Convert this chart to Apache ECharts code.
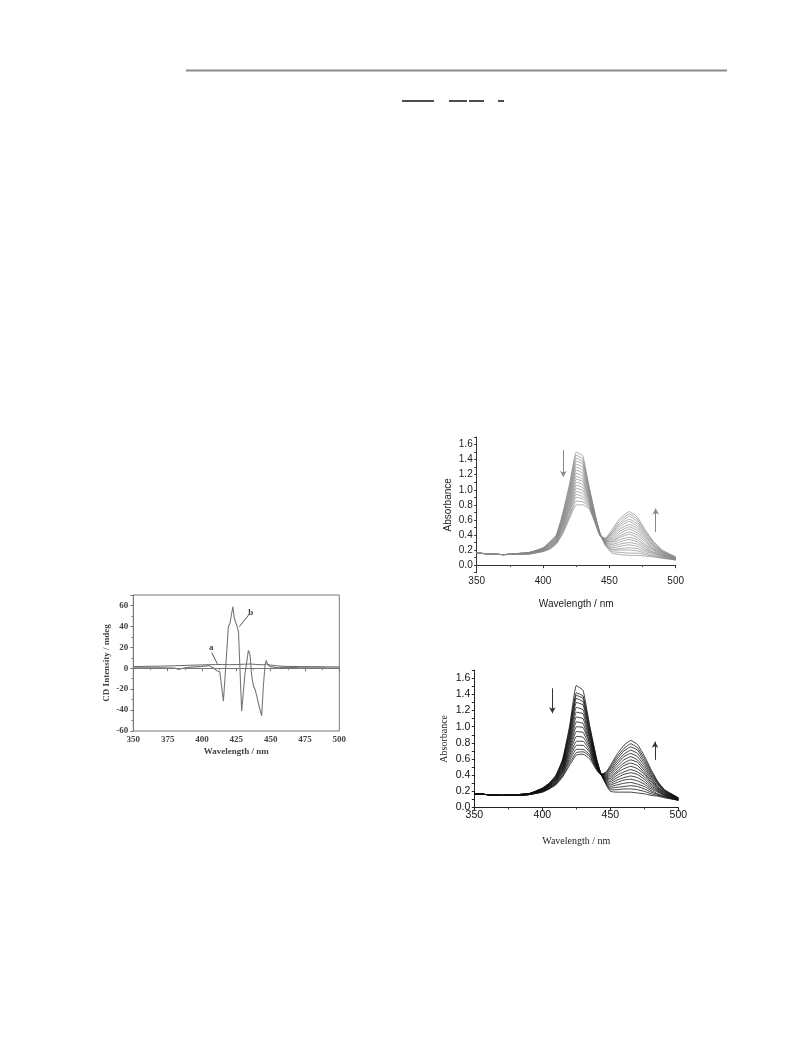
<!DOCTYPE html>
<html><head><meta charset="utf-8">
<script src="https://cdn.jsdelivr.net/npm/echarts@6/dist/echarts.min.js"></script>
<style>html,body{margin:0;padding:0;background:#fff}#c{width:791px;height:1059px}</style>
</head><body><div id="c"></div>
<script>
// ---------- Panel A: CD spectra (curves a and b) ----------
const CD_A_X = [350,360,370,380,390,400,405,410,415,420,425,430,435,440,444,447,450,455,460,470,480,490,500];
const CD_A_Y = [1.5,1.8,2.0,2.3,2.8,3.2,3.4,3.5,3.6,3.4,3.5,3.8,4.0,3.6,3.2,4.0,3.0,2.2,1.8,1.6,1.5,1.4,1.2];
const CD_B_X = [350,360,370,380,383,386,390,400,405,408,411,413,415.6,417.5,419.2,420.4,422.5,423.6,424.6,425.7,426.6,428.9,431.3,432.5,433.8,435,436.2,437.4,438.6,439.9,441,442.8,443.5,444.7,445.9,446.7,448.3,450,455,460,470,480,490,500];
const CD_B_Y = [0.5,0.3,0.5,0.2,-1.2,0.0,0.8,1.8,2.5,0.5,-2.5,-3.5,-31.5,5,39.5,43,59,47.5,49,39.5,34.5,-41,-5.5,-5,17,13,-7,-16.5,-20,-26.5,-33,-42.5,-45.5,-17,2.5,7.5,2.5,1.5,0.5,0.8,0.6,0.5,0.3,0.2];
const CD_LABELS = [["a", 407.1, 14.9, 411.2, 4.2], ["b", 435.0, 52.6, 427.2, 39.7]];

// ---------- Panel B: absorption titration (grey) ----------
// one row per wavelength, one column per spectrum
const WL2 = [350,370,390,400,405,410,415,420,425,430,435,440,443,447,452,458,465,471,477,483,490,500];
const ABS2 = [
 [.16,.16,.16,.16,.16,.16,.16,.16,.16,.16,.16,.16,.16,.16,.16,.16,.16,.16],
 [.14,.14,.14,.14,.14,.14,.14,.14,.14,.14,.14,.14,.14,.14,.14,.14,.14,.14],
 [.17,.17,.17,.17,.17,.16,.16,.16,.16,.16,.16,.16,.16,.15,.15,.15,.15,.15],
 [.23,.23,.22,.22,.22,.22,.21,.21,.21,.20,.20,.20,.19,.19,.19,.19,.18,.18],
 [.31,.30,.30,.29,.29,.28,.27,.27,.26,.26,.25,.25,.24,.23,.23,.22,.22,.21],
 [.40,.39,.39,.38,.37,.36,.36,.35,.34,.34,.33,.32,.32,.31,.30,.29,.29,.28],
 [.70,.68,.67,.65,.63,.62,.60,.58,.57,.55,.54,.52,.50,.49,.47,.45,.44,.42],
 [1.08,1.05,1.03,1.00,.97,.94,.92,.89,.86,.84,.81,.78,.76,.73,.70,.67,.65,.62],
 [1.50,1.46,1.42,1.38,1.34,1.30,1.26,1.22,1.18,1.14,1.10,1.06,1.02,.98,.94,.90,.85,.80],
 [1.45,1.41,1.37,1.34,1.30,1.26,1.22,1.18,1.14,1.11,1.07,1.03,.99,.95,.91,.88,.84,.80],
 [1.02,1.00,.99,.97,.95,.94,.92,.90,.89,.87,.86,.84,.82,.81,.79,.77,.76,.74],
 [.62,.61,.61,.60,.60,.59,.58,.58,.57,.57,.56,.56,.55,.54,.54,.53,.53,.52],
 [.42,.42,.42,.41,.41,.41,.41,.41,.40,.40,.40,.40,.40,.40,.39,.39,.39,.39],
 [.26,.27,.27,.28,.28,.29,.30,.30,.31,.31,.32,.32,.33,.34,.34,.35,.35,.36],
 [.16,.18,.20,.21,.23,.25,.27,.29,.31,.32,.34,.36,.38,.40,.42,.43,.45,.47],
 [.14,.17,.20,.22,.25,.28,.31,.34,.37,.39,.42,.45,.48,.51,.54,.56,.59,.62],
 [.13,.16,.20,.23,.27,.30,.34,.37,.41,.44,.48,.51,.54,.58,.61,.65,.68,.71],
 [.13,.16,.19,.22,.25,.28,.31,.34,.37,.40,.43,.46,.49,.52,.55,.58,.61,.64],
 [.12,.14,.16,.18,.20,.22,.24,.26,.28,.31,.33,.35,.37,.39,.41,.43,.45,.47],
 [.11,.12,.13,.15,.16,.17,.18,.20,.21,.22,.23,.25,.26,.27,.28,.30,.31,.32],
 [.09,.10,.10,.11,.12,.12,.13,.13,.14,.15,.15,.16,.17,.17,.18,.18,.19,.20],
 [.07,.07,.07,.07,.08,.08,.08,.08,.09,.09,.09,.09,.10,.10,.10,.10,.11,.11]
];
const ARROWS2 = [[415.3, 1.525, 1.17], [484.9, 0.44, 0.75]];

// ---------- Panel C: absorption titration (black) ----------
const WL3 = [350,370,390,400,405,410,415,420,425,430,435,440,443,447,450,455,460,465,470,475,480,485,490,500];
const ABS3 = [
 [.17,.17,.17,.17,.17,.17,.17,.17,.17,.17,.17,.17,.17,.17,.17,.17,.17],
 [.15,.15,.15,.15,.15,.15,.15,.15,.15,.15,.15,.15,.15,.15,.15,.15,.15],
 [.17,.17,.17,.17,.17,.17,.17,.17,.16,.16,.16,.16,.16,.16,.16,.16,.16],
 [.24,.24,.23,.23,.23,.22,.22,.22,.22,.21,.21,.21,.20,.20,.20,.19,.19],
 [.30,.30,.29,.29,.28,.28,.27,.27,.27,.26,.26,.25,.25,.24,.24,.23,.23],
 [.40,.39,.39,.38,.37,.36,.36,.35,.34,.33,.33,.32,.31,.30,.30,.29,.28],
 [.60,.59,.57,.56,.55,.53,.52,.50,.49,.48,.46,.45,.44,.42,.41,.39,.38],
 [1.00,.97,.94,.91,.88,.85,.82,.79,.76,.73,.70,.67,.64,.61,.58,.55,.52],
 [1.51,1.42,1.39,1.35,1.30,1.24,1.18,1.12,1.06,1.00,.94,.88,.82,.77,.72,.68,.65],
 [1.45,1.38,1.35,1.31,1.27,1.21,1.16,1.10,1.04,.99,.93,.87,.82,.77,.72,.69,.66],
 [1.00,.98,.95,.93,.90,.88,.85,.83,.80,.78,.75,.73,.70,.68,.65,.63,.60],
 [.60,.59,.58,.57,.57,.56,.55,.54,.53,.52,.51,.50,.50,.49,.48,.47,.46],
 [.42,.42,.42,.42,.42,.42,.42,.42,.41,.41,.41,.41,.41,.41,.41,.41,.41],
 [.28,.29,.30,.31,.32,.33,.34,.35,.36,.37,.38,.39,.40,.41,.42,.43,.44],
 [.20,.22,.24,.26,.28,.30,.32,.34,.36,.38,.40,.42,.44,.46,.48,.50,.52],
 [.19,.22,.25,.28,.31,.34,.37,.40,.43,.45,.48,.51,.54,.57,.60,.63,.66],
 [.19,.23,.26,.30,.34,.37,.41,.44,.48,.52,.55,.59,.63,.66,.70,.73,.77],
 [.19,.23,.27,.31,.35,.39,.43,.47,.51,.55,.59,.63,.67,.71,.75,.79,.83],
 [.18,.22,.26,.29,.33,.37,.41,.44,.48,.52,.56,.59,.63,.67,.71,.74,.78],
 [.17,.20,.23,.26,.29,.32,.35,.38,.41,.43,.46,.49,.52,.55,.58,.61,.64],
 [.15,.17,.19,.21,.23,.25,.27,.29,.31,.33,.35,.37,.39,.41,.43,.45,.47],
 [.14,.15,.16,.17,.19,.20,.21,.22,.23,.24,.25,.26,.28,.29,.30,.31,.32],
 [.12,.13,.13,.14,.15,.15,.16,.16,.17,.18,.18,.19,.20,.20,.21,.21,.22],
 [.09,.09,.09,.09,.10,.10,.10,.10,.10,.11,.11,.11,.11,.11,.12,.12,.12]
];
const ARROWS3 = [[407.4, 1.476, 1.167], [482.9, 0.59, 0.815]];

// ---------- build ----------
const SERIF = "'Liberation Serif','DejaVu Serif',serif";
const SANS = "'Liberation Sans','DejaVu Sans',sans-serif";
function evenFmt(v){ const r = Math.round(v*10); if (r < 0 || r % 2) return ''; return (r/10).toFixed(1); }

function spectra(wl, rows, gi, style, arrows, arrowColor){
  const n = rows[0].length, out = [];
  for (let k = 0; k < n; k++){
    const s = {
      type:'line', xAxisIndex:gi, yAxisIndex:gi, symbol:'none', smooth:0.12,
      lineStyle:style, silent:true,
      data: wl.map((w,i)=>[w, rows[i][k]])
    };
    if (k === 0){
      s.markLine = {
        silent:true, symbol:['none','arrow'], symbolSize:[5,6],
        lineStyle:{color:arrowColor, width:1, type:'solid'}, label:{show:false},
        data: arrows.map(a=>[{coord:[a[0],a[1]]},{coord:[a[0],a[2]]}])
      };
    }
    out.push(s);
  }
  return out;
}

const chart = echarts.init(document.getElementById('c'), null, {width:791, height:1059});

const cdLabelFont = {fontFamily:SERIF, fontSize:9, fontWeight:'bold', color:'#444'};
const series = [
  { type:'line', xAxisIndex:0, yAxisIndex:0, symbol:'none', silent:true,
    lineStyle:{color:'#666', width:1},
    data: CD_A_X.map((x,i)=>[x, CD_A_Y[i]]),
    markLine:{ silent:true, symbol:'none', lineStyle:{color:'#555', width:1, type:'solid'},
      label:{show:true, position:'start', distance:1, formatter:p=>p.name, ...cdLabelFont},
      data: CD_LABELS.filter(l=>l[0]==='a').map(l=>[{name:l[0], coord:[l[1],l[2]]},{coord:[l[3],l[4]]}]) } },
  { type:'line', xAxisIndex:0, yAxisIndex:0, symbol:'none', silent:true,
    lineStyle:{color:'#777', width:1.1},
    data: CD_B_X.map((x,i)=>[x, CD_B_Y[i]]),
    markLine:{ silent:true, symbol:'none', lineStyle:{color:'#555', width:1, type:'solid'},
      label:{show:true, position:'start', distance:1, formatter:p=>p.name, ...cdLabelFont},
      data: CD_LABELS.filter(l=>l[0]==='b').map(l=>[{name:l[0], coord:[l[1],l[2]]},{coord:[l[3],l[4]]}]) } },
  ...spectra(WL2, ABS2, 1, {color:'#8a8a8a', width:0.7}, ARROWS2, '#888'),
  ...spectra(WL3, ABS3, 2, {color:'#111', width:0.8}, ARROWS3, '#333')
];

function xAx(gi, opts){
  return Object.assign({
    type:'value', gridIndex:gi, min:350, max:500, splitLine:{show:false},
    nameLocation:'middle'
  }, opts);
}

const option = {
  animation:false,
  backgroundColor:'#fff',
  grid:[
    {left:133.3, top:595, width:206, height:136, show:true, borderColor:'#777', borderWidth:1},
    {left:476.7, top:437, width:199, height:135.7},
    {left:474.3, top:670.2, width:204, height:137.3}
  ],
  xAxis:[
    xAx(0, {interval:25, axisLine:{lineStyle:{color:'#777'}}, axisTick:{length:3, lineStyle:{color:'#777'}},
      minorTick:{show:true, splitNumber:2, length:2, lineStyle:{color:'#888'}},
      axisLabel:{fontFamily:SERIF, fontSize:9, fontWeight:'bold', color:'#444', margin:4},
      name:'Wavelength / nm', nameGap:16, nameTextStyle:{fontFamily:SERIF, fontSize:9, fontWeight:'bold', color:'#444'}}),
    xAx(1, {interval:50, axisLine:{lineStyle:{color:'#333'}}, axisTick:{length:3, lineStyle:{color:'#333'}},
      minorTick:{show:true, splitNumber:2, length:2, lineStyle:{color:'#555'}},
      axisLabel:{fontFamily:SANS, fontSize:10, color:'#222', margin:4},
      name:'Wavelength / nm', nameGap:27, nameTextStyle:{fontFamily:SANS, fontSize:10, color:'#222'}}),
    xAx(2, {interval:50, axisLine:{lineStyle:{color:'#222'}}, axisTick:{length:3, lineStyle:{color:'#222'}},
      minorTick:{show:true, splitNumber:2, length:2, lineStyle:{color:'#444'}},
      axisLabel:{fontFamily:SANS, fontSize:10.5, color:'#111', margin:2},
      name:'Wavelength / nm', nameGap:29, nameTextStyle:{fontFamily:SERIF, fontSize:10, color:'#222'}})
  ],
  yAxis:[
    {type:'value', gridIndex:0, min:-60, max:70, interval:20, splitLine:{show:false},
      axisLine:{lineStyle:{color:'#777'}}, axisTick:{length:3, lineStyle:{color:'#777'}},
      minorTick:{show:true, splitNumber:2, length:2, lineStyle:{color:'#888'}},
      axisLabel:{fontFamily:SERIF, fontSize:9, fontWeight:'bold', color:'#444', margin:5, formatter:v=>v>60?'':String(v)},
      name:'CD Intensity / mdeg', nameLocation:'middle', nameGap:22,
      nameTextStyle:{fontFamily:SERIF, fontSize:9, fontWeight:'bold', color:'#444'}},
    {type:'value', gridIndex:1, min:-0.1, max:1.7, interval:0.1, splitLine:{show:false},
      axisLine:{lineStyle:{color:'#333'}}, axisTick:{length:2.5, lineStyle:{color:'#333'}},
      axisLabel:{fontFamily:SANS, fontSize:10, color:'#222', margin:4, formatter:evenFmt},
      name:'Absorbance', nameLocation:'middle', nameGap:23,
      nameTextStyle:{fontFamily:SANS, fontSize:10, color:'#222'}},
    {type:'value', gridIndex:2, min:0, max:1.7, interval:0.1, splitLine:{show:false},
      axisLine:{lineStyle:{color:'#222'}}, axisTick:{length:2.5, lineStyle:{color:'#222'}},
      axisLabel:{fontFamily:SANS, fontSize:10.5, color:'#111', margin:4, formatter:evenFmt},
      name:'Absorbance', nameLocation:'middle', nameGap:25,
      nameTextStyle:{fontFamily:SERIF, fontSize:10, color:'#222'}}
  ],
  graphic:[
    {type:'line', shape:{x1:186, y1:70.5, x2:727, y2:70.5}, style:{stroke:'#8c8c8c', lineWidth:2}},
    {type:'line', shape:{x1:402, y1:101, x2:434, y2:101}, style:{stroke:'#111', lineWidth:1.5}},
    {type:'line', shape:{x1:449, y1:101, x2:467, y2:101}, style:{stroke:'#111', lineWidth:1.5}},
    {type:'line', shape:{x1:469, y1:101, x2:484, y2:101}, style:{stroke:'#111', lineWidth:1.5}},
    {type:'line', shape:{x1:498, y1:101, x2:504, y2:101}, style:{stroke:'#111', lineWidth:1.5}}
  ],
  series: series
};
chart.setOption(option);
</script>
</body></html>
